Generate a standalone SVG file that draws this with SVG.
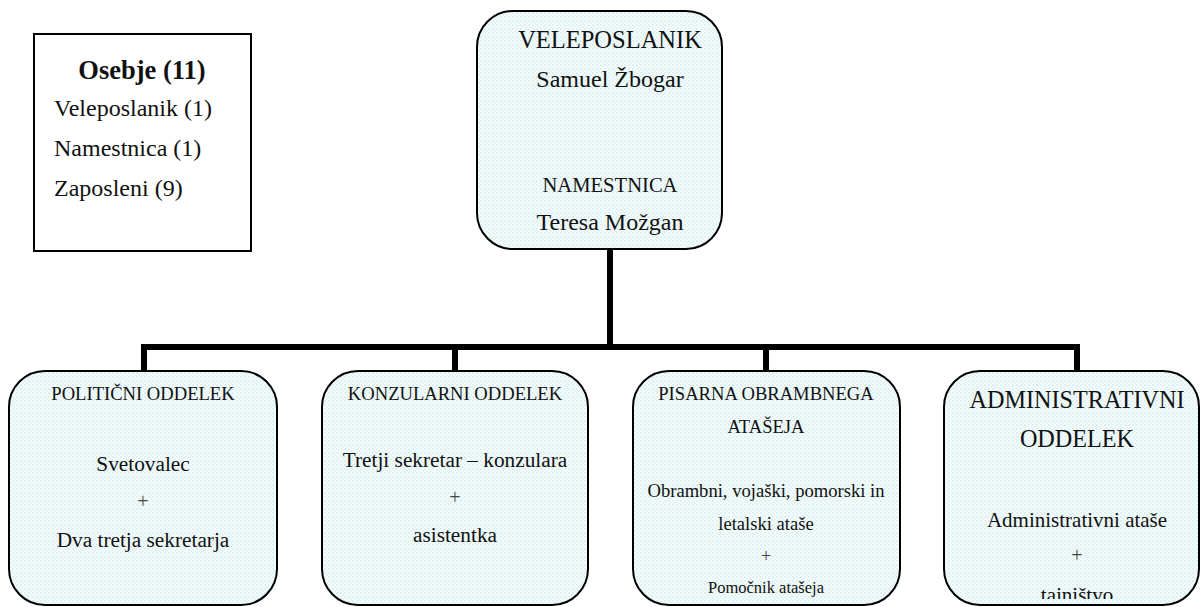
<svg xmlns="http://www.w3.org/2000/svg" width="1201" height="607" viewBox="0 0 1201 607">
<style>
text{font-family:"Liberation Serif","Times New Roman",serif;fill:#111;text-anchor:middle}
.box{fill:url(#dots);stroke:#000;stroke-width:2}
.conn{stroke:#000;stroke-width:6;fill:none;stroke-linecap:square}
.l{text-anchor:start;font-size:24px}
.big{font-size:24.5px}
.hd{font-size:18.6px}
.body{font-size:21.3px}
.pl{font-size:20px;fill:#444}
</style>
<defs>
<pattern id="dots" width="4" height="4" patternUnits="userSpaceOnUse">
<rect width="4" height="4" fill="#f4fbfb"/>
<rect x="0" y="0" width="2" height="2" fill="#dff1f3"/>
<rect x="2" y="2" width="2" height="2" fill="#e6f5f6"/>
</pattern>
<clipPath id="c4"><rect x="944" y="371" width="256" height="228"/></clipPath>
</defs>
<rect width="1201" height="607" fill="#fff"/>
<g id="connectors">
<line class="conn" x1="610" y1="250" x2="610" y2="347"/>
<line class="conn" x1="144" y1="347" x2="1077" y2="347"/>
<line class="conn" x1="144" y1="347" x2="144" y2="371"/>
<line class="conn" x1="455" y1="347" x2="455" y2="371"/>
<line class="conn" x1="766" y1="347" x2="766" y2="371"/>
<line class="conn" x1="1077" y1="347" x2="1077" y2="371"/>
</g>
<g id="osebje">
<rect x="34" y="34" width="217" height="217" fill="#fff" stroke="#000" stroke-width="2"/>
<text x="142" y="79" style="font-size:26.5px;font-weight:bold">Osebje (11)</text>
<text x="54" y="116" class="l">Veleposlanik (1)</text>
<text x="54" y="156" class="l">Namestnica (1)</text>
<text x="54" y="196" class="l">Zaposleni (9)</text>
</g>
<g id="veleposlanik">
<rect class="box" x="477" y="11" width="245" height="238" rx="36" ry="36"/>
<text x="610" y="48" class="big">VELEPOSLANIK</text>
<text x="610" y="87" class="big" style="font-size:24px">Samuel Žbogar</text>
<text x="610" y="192" style="font-size:20.6px">NAMESTNICA</text>
<text x="610" y="230" class="big" style="font-size:24px">Teresa Možgan</text>
</g>
<g id="politicni">
<rect class="box" x="9" y="371" width="268" height="234" rx="36" ry="36"/>
<text x="143" y="400" class="hd">POLITIČNI ODDELEK</text>
<text x="143" y="471" class="body">Svetovalec</text>
<text x="143" y="508" class="pl">+</text>
<text x="143" y="547" class="body">Dva tretja sekretarja</text>
</g>
<g id="konzularni">
<rect class="box" x="322" y="371" width="266" height="234" rx="36" ry="36"/>
<text x="455" y="400" class="hd">KONZULARNI ODDELEK</text>
<text x="455" y="467" class="body">Tretji sekretar – konzulara</text>
<text x="455" y="504" class="pl">+</text>
<text x="455" y="542" class="body">asistentka</text>
</g>
<g id="obrambni">
<rect class="box" x="633" y="371" width="267" height="234" rx="36" ry="36"/>
<text x="766" y="400" class="hd">PISARNA OBRAMBNEGA</text>
<text x="766" y="433" class="hd">ATAŠEJA</text>
<text x="766" y="497" class="hd">Obrambni, vojaški, pomorski in</text>
<text x="766" y="530" class="hd">letalski ataše</text>
<text x="766" y="562" class="pl" style="font-size:18px">+</text>
<text x="766" y="593" style="font-size:16.5px">Pomočnik atašeja</text>
</g>
<g id="administrativni">
<rect class="box" x="944" y="371" width="255" height="234" rx="36" ry="36"/>
<text x="1077" y="408" class="big" style="font-size:24.2px">ADMINISTRATIVNI</text>
<text x="1077" y="447" class="big" style="font-size:24.2px">ODDELEK</text>
<text x="1077" y="527" class="body" style="font-size:21px">Administrativni ataše</text>
<text x="1077" y="562" class="pl">+</text>
<text x="1077" y="602" class="body" style="font-size:21px" clip-path="url(#c4)">tajništvo</text>
</g>
</svg>
